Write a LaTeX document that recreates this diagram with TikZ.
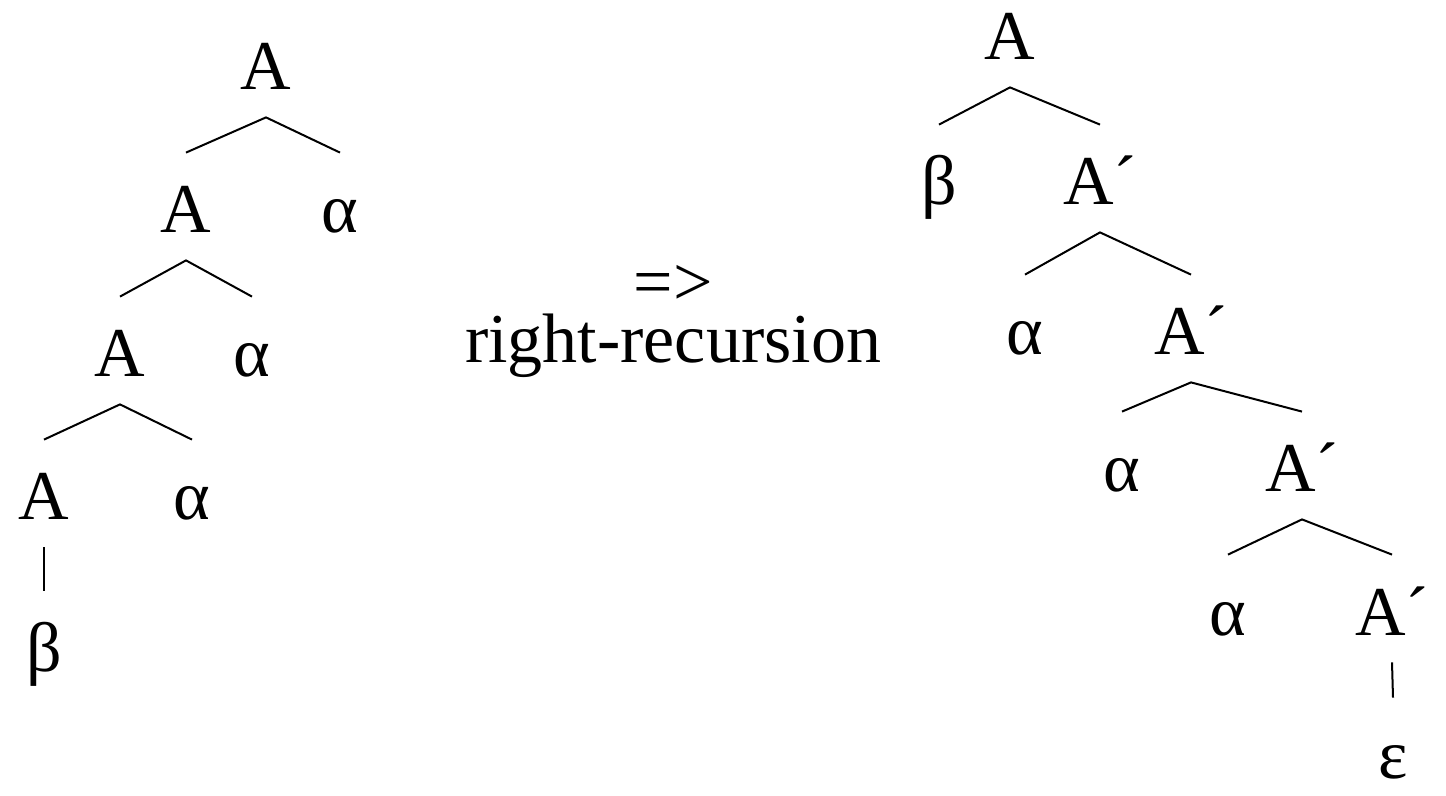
\documentclass[tikz,border=0pt]{standalone}
\usepackage{fontspec}
\setmainfont{Liberation Serif}
\usetikzlibrary{positioning}
\tikzset{
  sym/.style={font=\fontsize{35}{40}\selectfont, anchor=base, inner xsep=0pt,
    inner ysep=8pt, text height=32pt, text depth=5.5pt},
  note/.style={font=\fontsize{35}{40}\selectfont, anchor=base, inner sep=0pt},
  br/.style={line width=1pt},
}

\begin{document}
\begin{tikzpicture}[x=0.5pt,y=-0.5pt]
\useasboundingbox (0,0) rectangle (1446,796);
% left-recursive tree
\node[sym] (l1)  at (266,90)  {A};
\node[sym] (l2)  at (186,233) {A};
\node[sym] (la2) at (340,233) {α};
\node[sym] (l3)  at (120,377) {A};
\node[sym] (la3) at (252,377) {α};
\node[sym] (l4)  at (44,520)  {A};
\node[sym] (la4) at (192,520) {α};
\node[sym] (lb)  at (44,671)  {β};
\draw[br] (l2.north) -- (l1.south) -- (la2.north);
\draw[br] (l3.north) -- (l2.south) -- (la3.north);
\draw[br] (l4.north) -- (l3.south) -- (la4.north);
\draw[br] (l4.south) -- (lb.north);
% transformation
\node[note] (arr) at (673,306) {=>};
\node[note] (rr)  at (673,363) {right-recursion};
% right-recursive tree
\node[sym] (r1)  at (1010,60)  {A};
\node[sym] (rb)  at (939,205)  {β};
\node[sym] (r2)  at (1100,205) {A´};
\node[sym] (ra3) at (1025,355) {α};
\node[sym] (r3)  at (1191,355) {A´};
\node[sym] (ra4) at (1122,492) {α};
\node[sym] (r4)  at (1302,492) {A´};
\node[sym] (ra5) at (1228,635) {α};
\node[sym] (r5)  at (1392,635) {A´};
\node[sym] (re)  at (1393,778) {ε};
\draw[br] (rb.north) -- (r1.south) -- (r2.north);
\draw[br] (ra3.north) -- (r2.south) -- (r3.north);
\draw[br] (ra4.north) -- (r3.south) -- (r4.north);
\draw[br] (ra5.north) -- (r4.south) -- (r5.north);
\draw[br] (r5.south) -- (re.north);
\end{tikzpicture}
\end{document}
